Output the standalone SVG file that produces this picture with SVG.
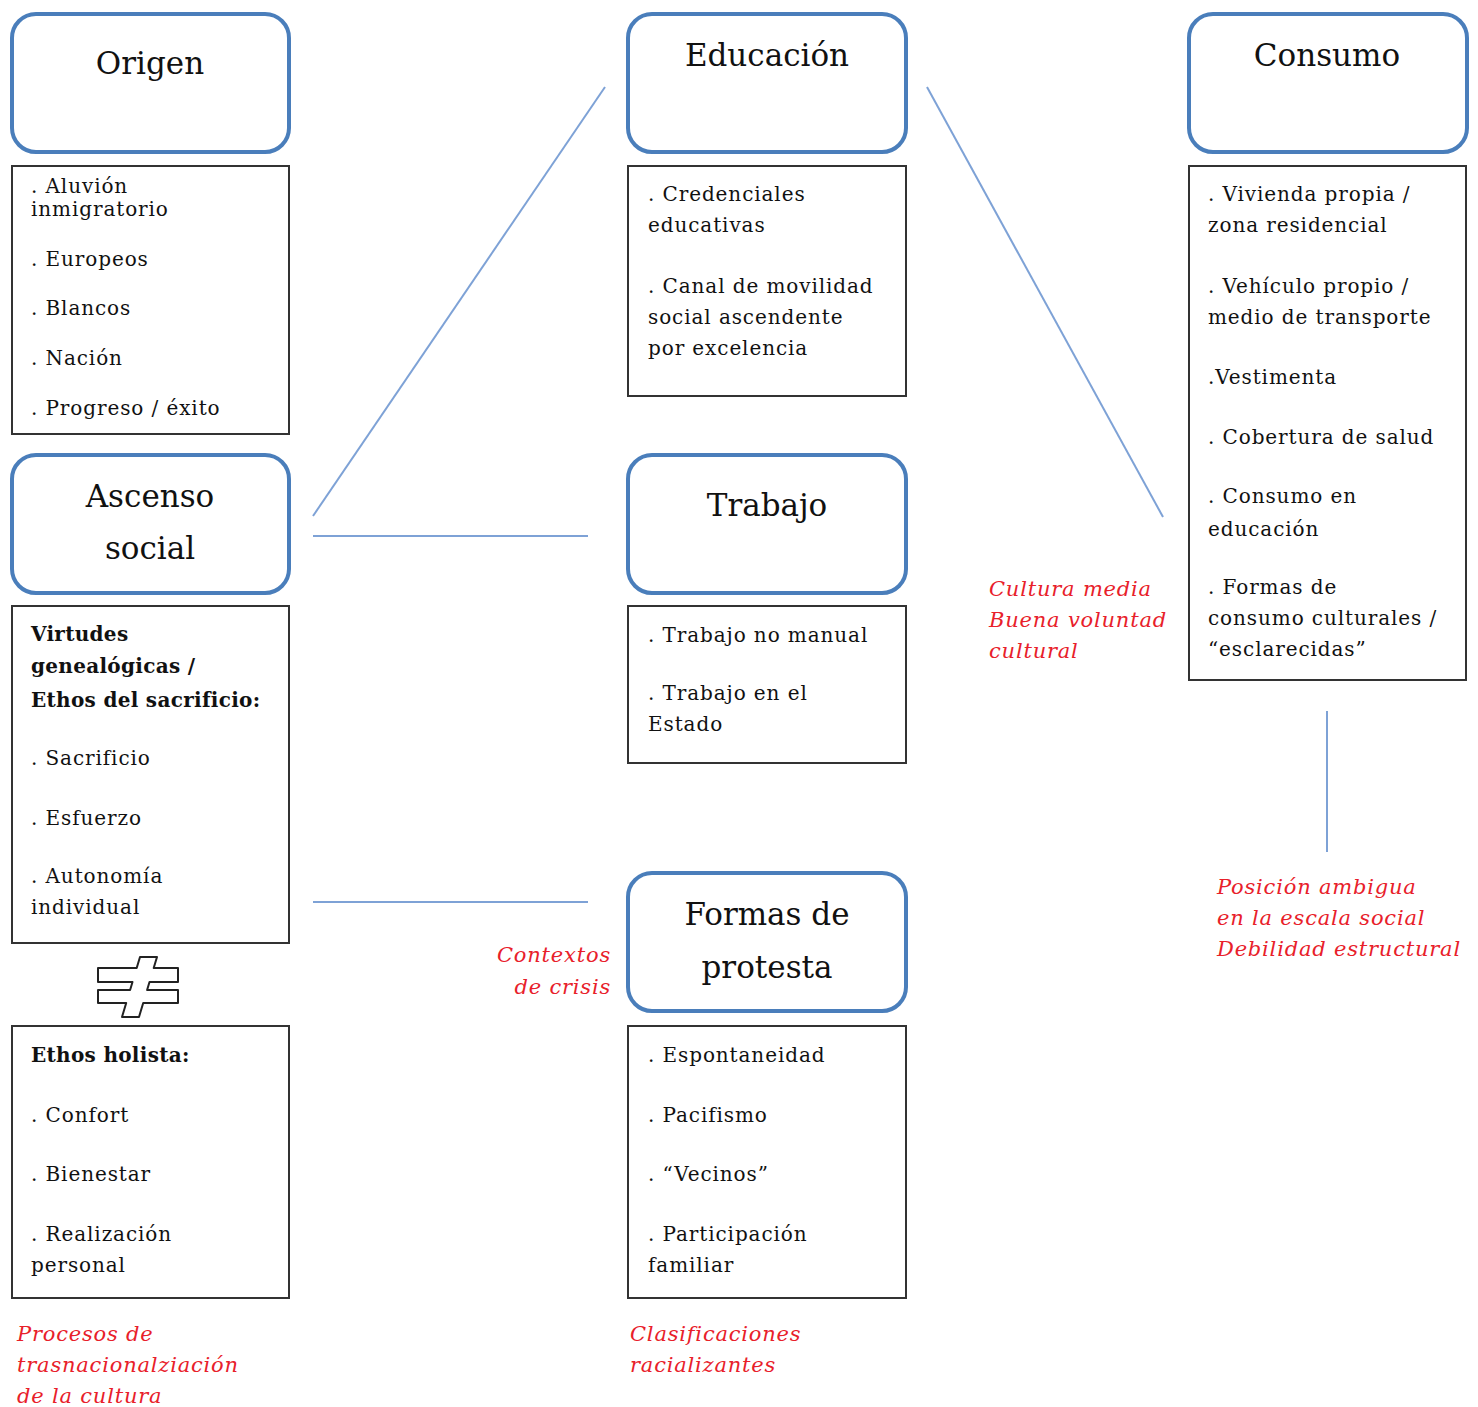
<svg xmlns="http://www.w3.org/2000/svg" width="1478" height="1407" viewBox="0 0 1478 1407">
<style>
.hd{fill:#fff;stroke:#4a7ebb;stroke-width:4}
.bx{fill:#fff;stroke:#333;stroke-width:2}
.t{font-family:"DejaVu Serif","Liberation Serif",serif;font-size:20px;fill:#111;letter-spacing:0.9px}
.b{font-weight:bold;letter-spacing:0.3px}
.ti{font-family:"DejaVu Serif","Liberation Serif",serif;font-size:31px;fill:#111;text-anchor:middle}
.r{font-family:"DejaVu Serif","Liberation Serif",serif;font-style:italic;font-size:21px;fill:#e8202a;letter-spacing:0.8px}
.ln{stroke:#7ea2d6;stroke-width:2;fill:none}
</style>
<rect width="1478" height="1407" fill="#fff"/>
<g id="connectors">
<line class="ln" x1="313" y1="516" x2="605" y2="87"/>
<line class="ln" x1="313" y1="536" x2="588" y2="536"/>
<line class="ln" x1="927" y1="87" x2="1163" y2="517"/>
<line class="ln" x1="313" y1="902" x2="588" y2="902"/>
<line class="ln" x1="1327" y1="711" x2="1327" y2="852"/>
</g>
<g id="origen">
<rect class="hd" x="12" y="14" width="277" height="138" rx="24"/>
<text class="ti" x="150" y="74">Origen</text>
</g>
<g id="origen-items">
<rect class="bx" x="12" y="166" width="277" height="268"/>
<text class="t" x="31" y="193">. Aluvión</text>
<text class="t" x="31" y="216">inmigratorio</text>
<text class="t" x="31" y="266">. Europeos</text>
<text class="t" x="31" y="315">. Blancos</text>
<text class="t" x="31" y="365">. Nación</text>
<text class="t" x="31" y="415">. Progreso / éxito</text>
</g>
<g id="ascenso">
<rect class="hd" x="12" y="455" width="277" height="138" rx="24"/>
<text class="ti" x="150" y="507">Ascenso</text>
<text class="ti" x="150" y="559">social</text>
</g>
<g id="virtudes">
<rect class="bx" x="12" y="606" width="277" height="337"/>
<text class="t b" x="31" y="641">Virtudes</text>
<text class="t b" x="31" y="673">genealógicas /</text>
<text class="t b" x="31" y="707">Ethos  del sacrificio:</text>
<text class="t" x="31" y="765">. Sacrificio</text>
<text class="t" x="31" y="825">. Esfuerzo</text>
<text class="t" x="31" y="883">. Autonomía</text>
<text class="t" x="31" y="914">individual</text>
</g>
<g id="not-equal">
<polygon points="140,957 157,957 153.7,968 178,968 178,982 149.5,982 147.1,990 178,990 178,1003 143.2,1003 139,1017 122,1017 126.2,1003 98,1003 98,990 130.1,990 132.5,982 98,982 98,968 136.7,968" fill="#fff" stroke="#222" stroke-width="2" stroke-linejoin="round"/>
</g>
<g id="holista">
<rect class="bx" x="12" y="1026" width="277" height="272"/>
<text class="t b" x="31" y="1062">Ethos  holista:</text>
<text class="t" x="31" y="1122">. Confort</text>
<text class="t" x="31" y="1181">. Bienestar</text>
<text class="t" x="31" y="1241">. Realización</text>
<text class="t" x="31" y="1272">personal</text>
</g>
<g id="note-procesos">
<text class="r" x="17" y="1341">Procesos de</text>
<text class="r" x="17" y="1372">trasnacionalziación</text>
<text class="r" x="17" y="1403">de la cultura</text>
</g>
<g id="educacion">
<rect class="hd" x="628" y="14" width="278" height="138" rx="24"/>
<text class="ti" x="767" y="66">Educación</text>
</g>
<g id="educacion-items">
<rect class="bx" x="628" y="166" width="278" height="230"/>
<text class="t" x="648" y="201">. Credenciales</text>
<text class="t" x="648" y="232">educativas</text>
<text class="t" x="648" y="293">. Canal de movilidad</text>
<text class="t" x="648" y="324">social ascendente</text>
<text class="t" x="648" y="355">por excelencia</text>
</g>
<g id="trabajo">
<rect class="hd" x="628" y="455" width="278" height="138" rx="24"/>
<text class="ti" x="767" y="516">Trabajo</text>
</g>
<g id="trabajo-items">
<rect class="bx" x="628" y="606" width="278" height="157"/>
<text class="t" x="648" y="642">. Trabajo no manual</text>
<text class="t" x="648" y="700">. Trabajo en el</text>
<text class="t" x="648" y="731">Estado</text>
</g>
<g id="protesta">
<rect class="hd" x="628" y="873" width="278" height="138" rx="24"/>
<text class="ti" x="767" y="925">Formas de</text>
<text class="ti" x="767" y="978">protesta</text>
</g>
<g id="protesta-items">
<rect class="bx" x="628" y="1026" width="278" height="272"/>
<text class="t" x="648" y="1062">. Espontaneidad</text>
<text class="t" x="648" y="1122">. Pacifismo</text>
<text class="t" x="648" y="1181">. “Vecinos”</text>
<text class="t" x="648" y="1241">. Participación</text>
<text class="t" x="648" y="1272">familiar</text>
</g>
<g id="note-contextos">
<text class="r" x="611" y="962" text-anchor="end">Contextos</text>
<text class="r" x="611" y="994" text-anchor="end">de crisis</text>
</g>
<g id="note-clasificaciones">
<text class="r" x="630" y="1341">Clasificaciones</text>
<text class="r" x="630" y="1372">racializantes</text>
</g>
<g id="consumo">
<rect class="hd" x="1189" y="14" width="278" height="138" rx="24"/>
<text class="ti" x="1327" y="66">Consumo</text>
</g>
<g id="consumo-items">
<rect class="bx" x="1189" y="166" width="277" height="514"/>
<text class="t" x="1208" y="201">. Vivienda propia /</text>
<text class="t" x="1208" y="232">zona residencial</text>
<text class="t" x="1208" y="293">. Vehículo propio /</text>
<text class="t" x="1208" y="324">medio  de transporte</text>
<text class="t" x="1208" y="384">.Vestimenta</text>
<text class="t" x="1208" y="444">. Cobertura de salud</text>
<text class="t" x="1208" y="503">. Consumo  en</text>
<text class="t" x="1208" y="536">educación</text>
<text class="t" x="1208" y="594">. Formas de</text>
<text class="t" x="1208" y="625">consumo culturales /</text>
<text class="t" x="1208" y="656">“esclarecidas”</text>
</g>
<g id="note-cultura">
<text class="r" x="989" y="596">Cultura media</text>
<text class="r" x="989" y="627">Buena voluntad</text>
<text class="r" x="989" y="658">cultural</text>
</g>
<g id="note-posicion">
<text class="r" x="1217" y="894">Posición ambigua</text>
<text class="r" x="1217" y="925">en la escala social</text>
<text class="r" x="1217" y="956">Debilidad estructural</text>
</g>
</svg>
